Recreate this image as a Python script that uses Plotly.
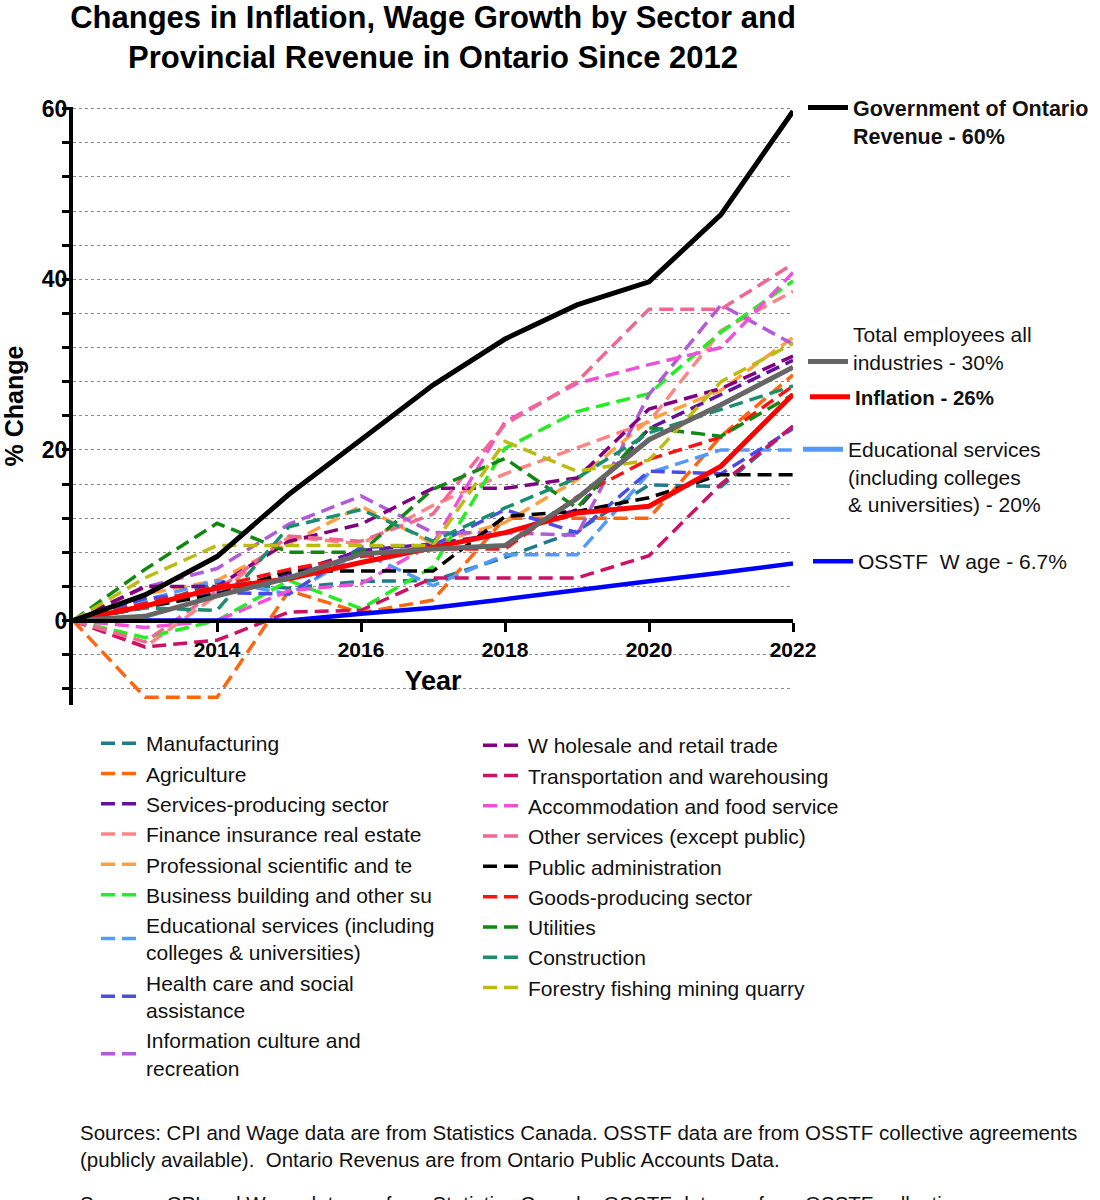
import plotly.graph_objects as go

years = [2012, 2013, 2014, 2015, 2016, 2017, 2018, 2019, 2020, 2021, 2022]

# Headline series
revenue = [0, 3.0, 7.5, 14.8, 21.2, 27.6, 33.0, 37.0, 39.7, 47.6, 59.7]
osstf = [0, 0, 0, 0, 0.8, 1.5, 2.5, 3.6, 4.6, 5.6, 6.7]
inflation = [0, 1.7, 3.8, 4.9, 6.8, 8.5, 10.3, 12.6, 13.4, 18.1, 26.5]
total_emp = [0, 0.5, 2.9, 5.0, 7.8, 8.4, 8.8, 14.3, 21.2, 25.3, 29.7]

# Sector series (left legend column)
manufacturing = [0, 1.5, 4.5, 3.8, 4.6, 4.7, 7.4, 10.5, 15.9, 15.7, 22.8]
agriculture = [0, -9.0, -9.0, 3.5, 0.9, 2.4, 12.0, 12.0, 12.0, 21.6, 28.8]
services = [0, 1.8, 3.5, 5.5, 8.2, 9.0, 10.2, 13.0, 22.5, 26.5, 30.5]
finance = [0, -3.1, 3.0, 9.8, 9.0, 13.5, 17.2, 20.3, 23.3, 34.0, 38.6]
professional = [0, 3.1, 4.7, 9.0, 13.4, 9.0, 11.5, 16.5, 23.5, 27.0, 33.2]
business = [0, -2.0, 0.0, 4.7, 1.4, 6.3, 20.2, 24.5, 26.6, 33.8, 39.8]
educational = [0, 2.4, 4.7, 3.1, 8.0, 4.1, 7.7, 7.7, 17.3, 20.0, 20.0]
health = [0, 2.6, 3.3, 3.1, 8.6, 8.8, 13.0, 10.3, 17.5, 17.2, 22.5]
information = [0, 3.9, 6.1, 11.3, 14.6, 10.3, 10.3, 10.0, 26.5, 37.0, 32.4]

# Sector series (right legend column)
wholesale = [0, 4.0, 4.0, 9.3, 11.3, 15.5, 15.5, 16.7, 24.8, 27.2, 31.0]
transport = [0, -3.1, -2.3, 1.0, 1.2, 5.0, 5.0, 5.0, 7.6, 16.0, 22.8]
accommodation = [0, -0.8, 0.0, 3.5, 4.3, 9.0, 23.3, 27.8, 30.0, 32.0, 40.8]
other_services = [0, -2.5, 3.5, 9.9, 9.3, 12.5, 23.0, 28.0, 36.5, 36.5, 41.8]
public_admin = [0, 1.5, 3.1, 5.8, 5.8, 5.8, 12.2, 12.8, 14.4, 17.1, 17.1]
goods = [0, 2.0, 4.0, 6.0, 7.5, 8.4, 8.4, 14.5, 18.9, 21.5, 27.5]
utilities = [0, 6.0, 11.4, 8.0, 8.0, 15.4, 19.0, 13.2, 22.6, 21.6, 26.5]
construction = [0, 1.5, 1.2, 11.0, 13.0, 9.3, 13.2, 16.7, 22.0, 24.8, 27.5]
forestry = [0, 5.0, 8.8, 8.8, 8.8, 8.8, 21.0, 17.5, 18.8, 28.0, 32.5]

left_names = ["Manufacturing", "Agriculture", "Services-producing sector",
              "Finance insurance real estate", "Professional scientific and te",
              "Business building and other su",
              "Educational services (including<br>colleges & universities)",
              "Health care and social<br>assistance",
              "Information culture and<br>recreation"]
left_values = [manufacturing, agriculture, services, finance, professional,
               business, educational, health, information]
left_colors = ["#1F7B8C", "#FF6611", "#66119A", "#FF8585", "#FFA040",
               "#22EE22", "#5599FF", "#4B4BE8", "#B25AD8"]

right_names = ["W holesale and retail trade", "Transportation and warehousing",
               "Accommodation and food service", "Other services (except public)",
               "Public administration", "Goods-producing sector", "Utilities",
               "Construction", "Forestry fishing mining quarry"]
right_values = [wholesale, transport, accommodation, other_services, public_admin,
                goods, utilities, construction, forestry]
right_colors = ["#800080", "#CC1166", "#F050D8", "#F06890", "#000000",
                "#FF1111", "#118811", "#1A8F6F", "#BBBB11"]

YMIN, YMAX = -9.9, 60.2
FONT = "Liberation Sans"
DASH = "14px,7px"

fig = go.Figure()

for name, vals, col in zip(left_names, left_values, left_colors):
    fig.add_trace(go.Scatter(x=years, y=vals, name=name, mode="lines",
                             line=dict(color=col, width=3.5, dash=DASH),
                             legend="legend"))
for name, vals, col in zip(right_names, right_values, right_colors):
    fig.add_trace(go.Scatter(x=years, y=vals, name=name, mode="lines",
                             line=dict(color=col, width=3.5, dash=DASH),
                             legend="legend2"))

fig.add_trace(go.Scatter(x=years, y=osstf, name="OSSTF  W age - 6.7%", mode="lines",
                         line=dict(color="#0000FF", width=4.5), legend="legend7"))
fig.add_trace(go.Scatter(x=years, y=inflation, name="Inflation - 26%", mode="lines",
                         line=dict(color="#FF0000", width=5), legend="legend5"))
fig.add_trace(go.Scatter(x=years, y=total_emp, name="Total employees all<br>industries - 30%",
                         mode="lines", line=dict(color="#666666", width=5), legend="legend4"))
fig.add_trace(go.Scatter(x=years, y=revenue, name="Government of Ontario<br>Revenue - 60%",
                         mode="lines", line=dict(color="#000000", width=5), legend="legend3"))
fig.add_trace(go.Scatter(x=[None], y=[None],
                         name="Educational services<br>(including colleges<br>& universities) - 20%",
                         mode="lines", line=dict(color="#5599FF", width=5), legend="legend6"))

plot_top, plot_bottom, plot_left, plot_right = 107, 705, 73, 793
ph = plot_bottom - plot_top
pw = plot_right - plot_left


def py(pix):
    return (plot_bottom - pix) / ph


def px(pix):
    return (pix - plot_left) / pw


def leg(x_pix, top_pix, size=21, bold=False, valign="middle"):
    return dict(x=px(x_pix), y=py(top_pix), xanchor="left", yanchor="top",
                font=dict(family=FONT, size=size, color="#111",
                          weight="bold" if bold else "normal"),
                bgcolor="rgba(0,0,0,0)", itemwidth=40, valign=valign,
                traceorder="normal", itemclick=False)


grid = dict(showgrid=True, gridcolor="#8a8a8a", griddash="dot", gridwidth=1)

fig.update_layout(
    width=1100, height=1200,
    margin=dict(l=plot_left, r=1100 - plot_right, t=plot_top, b=1200 - plot_bottom, autoexpand=False),
    paper_bgcolor="white", plot_bgcolor="white",
    title=dict(text="Changes in Inflation, Wage Growth by Sector and<br>Provincial Revenue in Ontario Since 2012",
               x=0.5, xref="paper", xanchor="center", y=0.977, yref="container", yanchor="top",
               font=dict(family=FONT, size=31, color="black", weight="bold")),
    xaxis=dict(range=[2012, 2022], anchor="free", position=(0 - YMIN) / (YMAX - YMIN),
               tickvals=[2014, 2016, 2018, 2020, 2022], ticks="outside", ticklen=9, tickwidth=3,
               tickcolor="black", showline=True, linewidth=4, linecolor="black",
               showgrid=False, zeroline=False, ticklabelstandoff=0,
               tickfont=dict(family=FONT, size=21, color="black", weight="bold"),
               title=dict(text="Year", standoff=10,
                          font=dict(family=FONT, size=27, color="black", weight="bold"))),
    yaxis=dict(range=[YMIN, YMAX], tickvals=[0, 20, 40, 60], ticks="outside", ticklen=7,
               tickwidth=3, tickcolor="black", showline=True, linewidth=4, linecolor="black",
               zeroline=False, ticklabelstandoff=-10,
               tickfont=dict(family=FONT, size=23, color="black", weight="bold"),
               minor=dict(dtick=4, tick0=0, ticks="outside", ticklen=7, tickwidth=3,
                          tickcolor="black", **grid),
               title=dict(text="% Change", standoff=21,
                          font=dict(family=FONT, size=25, color="black", weight="bold")),
               **grid),
    legend=leg(96, 723),
    legend2=leg(478, 725),
    legend3=leg(803, 87, size=21.5, bold=True, valign="top"),
    legend4=leg(803, 314, valign="bottom"),
    legend5=leg(805, 377, size=20.5, bold=True),
    legend6=leg(798, 429, valign="top"),
    legend7=leg(808, 541),
    showlegend=True,
)

sources = ("Sources: CPI and Wage data are from Statistics Canada. OSSTF data are from OSSTF collective agreements"
           "<br>(publicly available).  Ontario Revenus are from Ontario Public Accounts Data.")
fig.add_annotation(text=sources, xref="paper", yref="paper", x=px(78), y=py(1146),
                   xanchor="left", yanchor="middle", align="left", showarrow=False,
                   font=dict(family=FONT, size=20.5, color="#111"))
fig.add_annotation(text="Sources: CPI and Wage data are from Statistics Canada. OSSTF data are from OSSTF collective",
                   xref="paper", yref="paper", x=px(78), y=py(1203),
                   xanchor="left", yanchor="middle", align="left", showarrow=False,
                   font=dict(family=FONT, size=20.5, color="#111"))

fig.write_html("out.html")
